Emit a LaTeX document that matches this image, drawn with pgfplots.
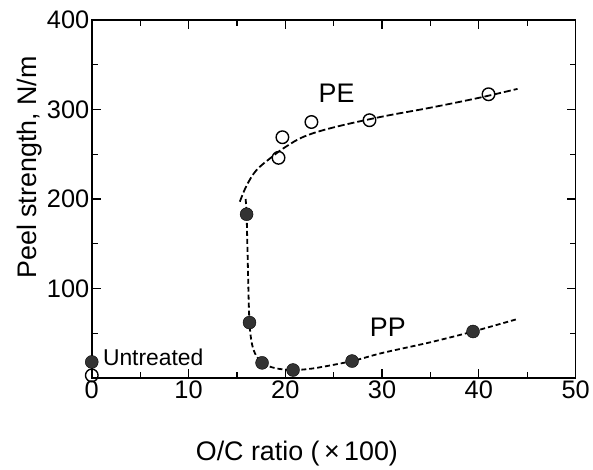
\documentclass[border=0pt]{standalone}
\usepackage{fontspec}
\setmainfont{Liberation Sans}
\usepackage{pgfplots}
\pgfplotsset{compat=1.18}
\begin{document}
\begin{tikzpicture}
\begin{axis}[
  scale only axis, width=485bp, height=359bp,
  xmin=0, xmax=50, ymin=0, ymax=400,
  xtick={0,10,20,30,40,50}, ytick={100,200,300,400},
  minor xtick={5,15,25,35,45}, minor ytick={50,150,250,350},
  tick align=inside, tick pos=both,
  major tick length=9bp, minor tick length=6bp,
  every tick/.style={black, line width=1.3bp},
  axis line style={line width=1.5bp},
  tick label style={font=\fontsize{25.5}{28}\selectfont},
  /pgf/number format/assume math mode=true,
  xticklabel style={yshift=1bp},
  yticklabel style={xshift=1bp},
  label style={font=\fontsize{27}{30}\selectfont},
  xlabel={O/C ratio (\,×\,100)}, ylabel={Peel strength, N/m},
  xlabel style={at={(axis description cs:0.424,-0.212)}, anchor=center},
  ylabel style={at={(axis description cs:-0.128,0.588)}, anchor=center},
  clip=false,
]
\path (rel axis cs:-92/485,-92/359) rectangle (rel axis cs:1+16/485,1+20/359);
% PE fitted curve
\addplot[black, line width=1.8bp, dash pattern=on 7bp off 3bp, smooth, tension=0.6] coordinates {
(15.3,197) (16,215) (17,232) (18.5,246) (20,258) (22,270) (25,280) (30,292) (35,302) (40,313) (44,323)};
% PP fitted curve
\addplot[black, line width=1.8bp, dash pattern=on 5bp off 3bp, smooth, tension=0.5] coordinates {
(15.9,200) (16.0,183) (16.1,140) (16.3,62) (16.7,32) (17.6,17) (19,11) (20.8,9) (23,11) (26.9,19) (30,28) (35,40) (39.4,52) (44,66)};
% PE data
\addplot[only marks, mark=o, mark size=6.3bp, mark options={line width=1.4bp, fill=white}, black] coordinates {
(0,3) (19.3,246) (19.7,269) (22.7,286) (28.7,288) (41.0,317)};
% PP data
\addplot[only marks, mark=*, mark size=6.5bp, mark options={draw=black, fill=black!80}] coordinates {
(0,18) (16.0,183) (16.3,62) (17.6,17) (20.8,9) (26.9,19) (39.4,52)};
\node[anchor=west, font=\fontsize{23}{26}\selectfont] at (axis cs:0.8,23) {Untreated};
\node[font=\fontsize{27}{30}\selectfont] at (axis cs:25.3,318) {PE};
\node[font=\fontsize{27}{30}\selectfont] at (axis cs:30.6,57) {PP};
\end{axis}
\end{tikzpicture}
\end{document}
